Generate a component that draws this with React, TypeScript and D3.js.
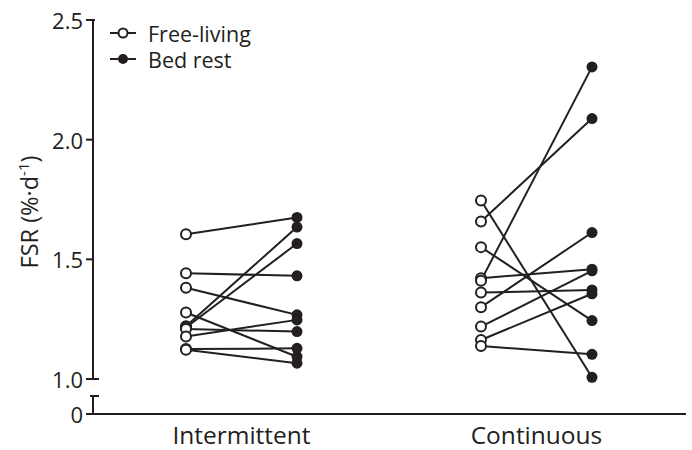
import React from "react";
import * as d3 from "d3";

const categories = ["Intermittent", "Continuous"];
const conditions = ["Free-living", "Bed rest"];

// paired values per participant: [free-living, bed rest]
const intermittentFree = [1.605, 1.442, 1.381, 1.278, 1.22, 1.215, 1.209, 1.178, 1.125, 1.122];
const intermittentBed = [1.675, 1.431, 1.268, 1.093, 1.635, 1.566, 1.198, 1.247, 1.128, 1.066];
const continuousFree = [1.746, 1.658, 1.551, 1.421, 1.411, 1.361, 1.3, 1.219, 1.163, 1.138];
const continuousBed = [1.007, 2.088, 1.244, 1.459, 2.304, 1.372, 1.612, 1.452, 1.356, 1.103];

const yTicks = [1.0, 1.5, 2.0, 2.5];
const yLabel = "FSR (%·d";

const W = 692;
const H = 450;
const INK = "#231f20";
const FONT = "'Open Sans', sans-serif";

export default function App() {
  const axisX = 93;
  const y = d3.scaleLinear().domain([1.0, 2.5]).range([379, 20]);
  const yZero = 414;
  const yBreakTop = 396;
  const xBand = d3.scaleBand().domain(categories).range([94, 684]);
  const offset = 55.5;
  const xPos = (cat: string, cond: number) =>
    (xBand(cat) as number) + xBand.bandwidth() / 2 + (cond === 0 ? -offset : offset);

  const groups = [
    { cat: categories[0], free: intermittentFree, bed: intermittentBed },
    { cat: categories[1], free: continuousFree, bed: continuousBed },
  ];

  return (
    <svg
      width={W}
      height={H}
      style={{ position: "fixed", left: 0, top: 0, background: "#fff" }}
      fontFamily={FONT}
    >
      <rect width={W} height={H} fill="#fff" />
      {/* Y axis upper segment */}
      <line x1={axisX} x2={axisX} y1={y(2.5)} y2={y(1.0)} stroke={INK} strokeWidth={2} />
      <line x1={axisX} x2={99} y1={y(1.0)} y2={y(1.0)} stroke={INK} strokeWidth={2} />
      <line x1={axisX} x2={95} y1={y(2.5)} y2={y(2.5)} stroke={INK} strokeWidth={2} />
      {yTicks.map((t) => (
        <g key={t}>
          <line x1={86} x2={axisX} y1={y(t)} y2={y(t)} stroke={INK} strokeWidth={2} />
          <text
            x={83}
            y={y(t)}
            textAnchor="end"
            dominantBaseline="central"
            fontSize={22}
            fill={INK}
          >
            {d3.format(".1f")(t)}
          </text>
        </g>
      ))}
      {/* Y axis lower segment */}
      <line x1={axisX} x2={axisX} y1={yBreakTop} y2={yZero} stroke={INK} strokeWidth={2} />
      <line x1={90} x2={99} y1={yBreakTop} y2={yBreakTop} stroke={INK} strokeWidth={2} />
      <line x1={86} x2={axisX} y1={yZero} y2={yZero} stroke={INK} strokeWidth={2} />
      <text x={83} y={yZero} textAnchor="end" dominantBaseline="central" fontSize={22} fill={INK}>
        0
      </text>
      {/* X axis */}
      <line x1={axisX - 1} x2={686} y1={yZero} y2={yZero} stroke={INK} strokeWidth={2} />
      {categories.map((c) => (
        <text
          key={c}
          x={(xBand(c) as number) + xBand.bandwidth() / 2}
          y={444}
          textAnchor="middle"
          fontSize={24.5}
          fill={INK}
        >
          {c}
        </text>
      ))}
      {/* Y label */}
      <text
        transform={`translate(38, 212) rotate(-90)`}
        textAnchor="middle"
        fontSize={23.5}
        fill={INK}
      >
        {yLabel}
        <tspan dy={-9} fontSize={15}>-1</tspan>
        <tspan dy={9}>)</tspan>
      </text>
      {/* Paired lines */}
      {groups.map((g) =>
        g.free.map((v, i) => (
          <line
            key={g.cat + "l" + i}
            x1={xPos(g.cat, 0)}
            x2={xPos(g.cat, 1)}
            y1={y(v)}
            y2={y(g.bed[i])}
            stroke={INK}
            strokeWidth={2}
          />
        ))
      )}
      {groups.map((g) =>
        g.free.map((v, i) => (
          <circle
            key={g.cat + "f" + i}
            cx={xPos(g.cat, 0)}
            cy={y(v)}
            r={5}
            fill="#fff"
            stroke={INK}
            strokeWidth={2}
          />
        ))
      )}
      {groups.map((g) =>
        g.bed.map((v, i) => (
          <circle key={g.cat + "b" + i} cx={xPos(g.cat, 1)} cy={y(v)} r={5.5} fill={INK} />
        ))
      )}
      {/* Legend */}
      {conditions.map((c, i) => {
        const ly = 33 + i * 26;
        return (
          <g key={c}>
            <line x1={110} x2={136} y1={ly} y2={ly} stroke={INK} strokeWidth={2} />
            {i === 0 ? (
              <circle cx={123} cy={ly} r={4.5} fill="#fff" stroke={INK} strokeWidth={2} />
            ) : (
              <circle cx={123} cy={ly} r={5} fill={INK} />
            )}
            <text x={148} y={ly} dominantBaseline="central" fontSize={21.5} fill={INK}>
              {c}
            </text>
          </g>
        );
      })}
    </svg>
  );
}
